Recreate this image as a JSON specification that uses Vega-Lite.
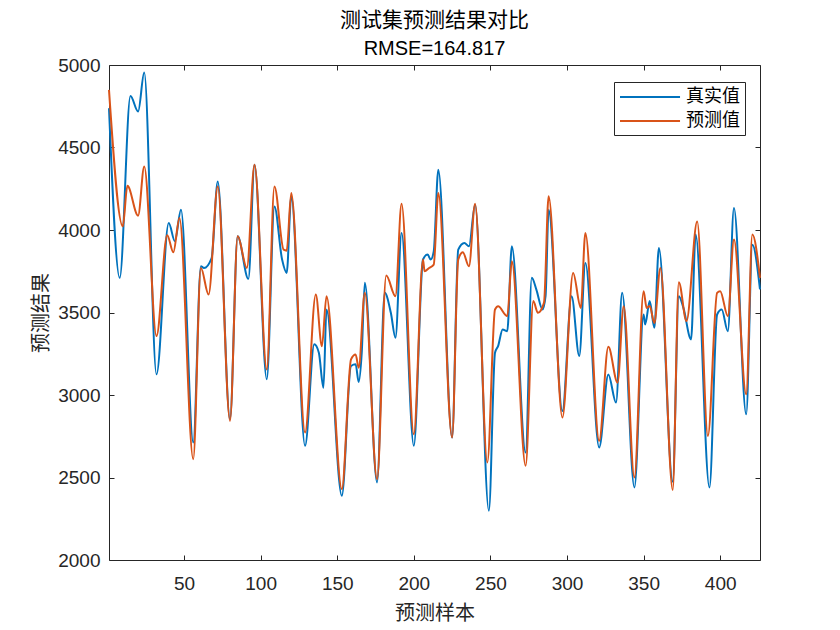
{
  "$schema": "https://vega.github.io/schema/vega-lite/v6.json",
  "width": 651,
  "height": 495,
  "autosize": {"type": "none"},
  "padding": {"left": 109, "top": 65, "right": 80, "bottom": 70},
  "background": "white",
  "config": {
    "view": {"stroke": "#262626", "strokeWidth": 1},
    "axis": {
      "grid": false,
      "domain": false,
      "tickColor": "#262626",
      "tickSize": -5,
      "labelFont": "Liberation Sans",
      "labelFontSize": 19,
      "labelColor": "#262626",
      "titleFont": "Noto Sans CJK SC",
      "titleFontSize": 20,
      "titleFontWeight": "normal",
      "titleColor": "#262626"
    }
  },
  "title": {
    "text": "测试集预测结果对比",
    "subtitle": "RMSE=164.817",
    "font": "Noto Sans CJK SC",
    "fontSize": 21,
    "fontWeight": "normal",
    "color": "#000000",
    "subtitleFont": "Liberation Sans",
    "subtitleFontSize": 20,
    "subtitleColor": "#000000",
    "subtitlePadding": 8,
    "anchor": "middle",
    "frame": "group",
    "offset": -3
  },
  "data": {
    "values": [
      {"x": 1, "v": 4738, "s": "真实值"}, {"x": 8, "v": 3710, "s": "真实值"}, {"x": 15, "v": 4812, "s": "真实值"}, {"x": 20, "v": 4718, "s": "真实值"}, {"x": 24, "v": 4954, "s": "真实值"}, {"x": 32, "v": 3125, "s": "真实值"}, {"x": 40, "v": 4042, "s": "真实值"}, {"x": 44, "v": 3932, "s": "真实值"}, {"x": 48, "v": 4123, "s": "真实值"}, {"x": 56, "v": 2712, "s": "真实值"}, {"x": 61, "v": 3780, "s": "真实值"}, {"x": 63, "v": 3770, "s": "真实值"}, {"x": 68, "v": 3830, "s": "真实值"}, {"x": 72, "v": 4294, "s": "真实值"}, {"x": 80, "v": 2853, "s": "真实值"}, {"x": 85, "v": 3962, "s": "真实值"}, {"x": 92, "v": 3704, "s": "真实值"}, {"x": 96, "v": 4395, "s": "真实值"}, {"x": 104, "v": 3095, "s": "真实值"}, {"x": 109, "v": 4143, "s": "真实值"}, {"x": 114, "v": 3821, "s": "真实值"}, {"x": 117, "v": 3740, "s": "真实值"}, {"x": 120, "v": 4204, "s": "真实值"}, {"x": 129, "v": 2692, "s": "真实值"}, {"x": 135, "v": 3307, "s": "真实值"}, {"x": 138, "v": 3256, "s": "真实值"}, {"x": 141, "v": 3044, "s": "真实值"}, {"x": 143, "v": 3518, "s": "真实值"}, {"x": 153, "v": 2389, "s": "真实值"}, {"x": 159, "v": 3176, "s": "真实值"}, {"x": 162, "v": 3186, "s": "真实值"}, {"x": 164, "v": 3079, "s": "真实值"}, {"x": 166, "v": 3256, "s": "真实值"}, {"x": 168, "v": 3680, "s": "真实值"}, {"x": 176, "v": 2470, "s": "真实值"}, {"x": 181, "v": 3619, "s": "真实值"}, {"x": 185, "v": 3498, "s": "真实值"}, {"x": 188, "v": 3347, "s": "真实值"}, {"x": 192, "v": 3982, "s": "真实值"}, {"x": 200, "v": 2692, "s": "真实值"}, {"x": 206, "v": 3821, "s": "真实值"}, {"x": 209, "v": 3851, "s": "真实值"}, {"x": 211, "v": 3821, "s": "真实值"}, {"x": 213, "v": 3870, "s": "真实值"}, {"x": 216, "v": 4365, "s": "真实值"}, {"x": 225, "v": 2742, "s": "真实值"}, {"x": 229, "v": 3881, "s": "真实值"}, {"x": 233, "v": 3921, "s": "真实值"}, {"x": 236, "v": 3901, "s": "真实值"}, {"x": 240, "v": 4153, "s": "真实值"}, {"x": 249, "v": 2299, "s": "真实值"}, {"x": 253, "v": 3256, "s": "真实值"}, {"x": 255, "v": 3296, "s": "真实值"}, {"x": 258, "v": 3397, "s": "真实值"}, {"x": 261, "v": 3387, "s": "真实值"}, {"x": 264, "v": 3901, "s": "真实值"}, {"x": 273, "v": 2651, "s": "真实值"}, {"x": 277, "v": 3710, "s": "真实值"}, {"x": 280, "v": 3639, "s": "真实值"}, {"x": 284, "v": 3518, "s": "真实值"}, {"x": 286, "v": 3599, "s": "真实值"}, {"x": 288, "v": 4123, "s": "真实值"}, {"x": 297, "v": 2903, "s": "真实值"}, {"x": 303, "v": 3599, "s": "真实值"}, {"x": 308, "v": 3236, "s": "真实值"}, {"x": 312, "v": 3800, "s": "真实值"}, {"x": 321, "v": 2682, "s": "真实值"}, {"x": 327, "v": 3125, "s": "真实值"}, {"x": 332, "v": 2954, "s": "真实值"}, {"x": 336, "v": 3619, "s": "真实值"}, {"x": 344, "v": 2440, "s": "真实值"}, {"x": 350, "v": 3488, "s": "真实值"}, {"x": 351, "v": 3427, "s": "真实值"}, {"x": 354, "v": 3569, "s": "真实值"}, {"x": 357, "v": 3407, "s": "真实值"}, {"x": 360, "v": 3891, "s": "真实值"}, {"x": 369, "v": 2475, "s": "真实值"}, {"x": 373, "v": 3599, "s": "真实值"}, {"x": 376, "v": 3528, "s": "真实值"}, {"x": 381, "v": 3337, "s": "真实值"}, {"x": 384, "v": 3972, "s": "真实值"}, {"x": 393, "v": 2440, "s": "真实值"}, {"x": 398, "v": 3488, "s": "真实值"}, {"x": 401, "v": 3518, "s": "真实值"}, {"x": 405, "v": 3387, "s": "真实值"}, {"x": 409, "v": 4133, "s": "真实值"}, {"x": 417, "v": 2883, "s": "真实值"}, {"x": 421, "v": 3911, "s": "真实值"}, {"x": 426, "v": 3640, "s": "真实值"},
      {"x": 1, "v": 4849, "s": "预测值"}, {"x": 10, "v": 4022, "s": "预测值"}, {"x": 13, "v": 4268, "s": "预测值"}, {"x": 20, "v": 4087, "s": "预测值"}, {"x": 24, "v": 4385, "s": "预测值"}, {"x": 32, "v": 3357, "s": "预测值"}, {"x": 39, "v": 3968, "s": "预测值"}, {"x": 43, "v": 3865, "s": "预测值"}, {"x": 47, "v": 4073, "s": "预测值"}, {"x": 56, "v": 2611, "s": "预测值"}, {"x": 61, "v": 3770, "s": "预测值"}, {"x": 66, "v": 3609, "s": "预测值"}, {"x": 72, "v": 4264, "s": "预测值"}, {"x": 80, "v": 2843, "s": "预测值"}, {"x": 85, "v": 3962, "s": "预测值"}, {"x": 91, "v": 3770, "s": "预测值"}, {"x": 96, "v": 4395, "s": "预测值"}, {"x": 104, "v": 3155, "s": "预测值"}, {"x": 109, "v": 4264, "s": "预测值"}, {"x": 115, "v": 3881, "s": "预测值"}, {"x": 117, "v": 3875, "s": "预测值"}, {"x": 120, "v": 4224, "s": "预测值"}, {"x": 129, "v": 2772, "s": "预测值"}, {"x": 136, "v": 3609, "s": "预测值"}, {"x": 140, "v": 3296, "s": "预测值"}, {"x": 143, "v": 3599, "s": "预测值"}, {"x": 153, "v": 2430, "s": "预测值"}, {"x": 159, "v": 3216, "s": "预测值"}, {"x": 162, "v": 3246, "s": "预测值"}, {"x": 164, "v": 3165, "s": "预测值"}, {"x": 168, "v": 3619, "s": "预测值"}, {"x": 176, "v": 2490, "s": "预测值"}, {"x": 182, "v": 3724, "s": "预测值"}, {"x": 188, "v": 3599, "s": "预测值"}, {"x": 192, "v": 4159, "s": "预测值"}, {"x": 200, "v": 2762, "s": "预测值"}, {"x": 206, "v": 3821, "s": "预测值"}, {"x": 207, "v": 3750, "s": "预测值"}, {"x": 210, "v": 3770, "s": "预测值"}, {"x": 213, "v": 3790, "s": "预测值"}, {"x": 216, "v": 4224, "s": "预测值"}, {"x": 225, "v": 2742, "s": "预测值"}, {"x": 229, "v": 3821, "s": "预测值"}, {"x": 232, "v": 3865, "s": "预测值"}, {"x": 236, "v": 3780, "s": "预测值"}, {"x": 240, "v": 4159, "s": "预测值"}, {"x": 248, "v": 2591, "s": "预测值"}, {"x": 253, "v": 3518, "s": "预测值"}, {"x": 255, "v": 3538, "s": "预测值"}, {"x": 261, "v": 3478, "s": "预测值"}, {"x": 264, "v": 3810, "s": "预测值"}, {"x": 273, "v": 2571, "s": "预测值"}, {"x": 278, "v": 3569, "s": "预测值"}, {"x": 281, "v": 3498, "s": "预测值"}, {"x": 285, "v": 3560, "s": "预测值"}, {"x": 288, "v": 4204, "s": "预测值"}, {"x": 297, "v": 2863, "s": "预测值"}, {"x": 304, "v": 3740, "s": "预测值"}, {"x": 309, "v": 3528, "s": "预测值"}, {"x": 312, "v": 3982, "s": "预测值"}, {"x": 321, "v": 2722, "s": "预测值"}, {"x": 327, "v": 3292, "s": "预测值"}, {"x": 333, "v": 3075, "s": "预测值"}, {"x": 337, "v": 3538, "s": "预测值"}, {"x": 344, "v": 2500, "s": "预测值"}, {"x": 350, "v": 3629, "s": "预测值"}, {"x": 352, "v": 3528, "s": "预测值"}, {"x": 354, "v": 3540, "s": "预测值"}, {"x": 357, "v": 3437, "s": "预测值"}, {"x": 361, "v": 3770, "s": "预测值"}, {"x": 369, "v": 2425, "s": "预测值"}, {"x": 373, "v": 3684, "s": "预测值"}, {"x": 378, "v": 3448, "s": "预测值"}, {"x": 385, "v": 4052, "s": "预测值"}, {"x": 392, "v": 2752, "s": "预测值"}, {"x": 398, "v": 3619, "s": "预测值"}, {"x": 400, "v": 3629, "s": "预测值"}, {"x": 405, "v": 3478, "s": "预测值"}, {"x": 409, "v": 3942, "s": "预测值"}, {"x": 417, "v": 3004, "s": "预测值"}, {"x": 421, "v": 3972, "s": "预测值"}, {"x": 426, "v": 3710, "s": "预测值"}
    ]
  },
  "layer": [
    {
      "transform": [{"filter": "datum.s === '真实值'"}],
      "mark": {"type": "line", "interpolate": "monotone", "strokeWidth": 2},
      "encoding": {
        "x": {
          "field": "x", "type": "quantitative",
          "scale": {"domain": [1, 426], "nice": false, "zero": false},
          "axis": {"orient": "bottom", "values": [50, 100, 150, 200, 250, 300, 350, 400], "format": "d", "title": "预测样本", "labelPadding": 19, "titlePadding": 10}
        },
        "y": {
          "field": "v", "type": "quantitative",
          "scale": {"domain": [2000, 5000], "nice": false, "zero": false},
          "axis": {"orient": "left", "values": [2000, 2500, 3000, 3500, 4000, 4500, 5000], "format": "d", "title": "预测结果", "labelPadding": 14, "titlePadding": 6}
        },
        "color": {
          "field": "s", "type": "nominal",
          "scale": {"domain": ["真实值", "预测值"], "range": ["#0072BD", "#D95319"]},
          "legend": {
            "title": null, "orient": "none", "legendX": 505, "legendY": 17,
            "symbolType": "M-1,0H5.67", "symbolSize": 324, "symbolStrokeWidth": 2,
            "strokeColor": "#262626", "fillColor": "white", "padding": 5,
            "labelFont": "Noto Sans CJK SC", "labelFontSize": 18, "labelColor": "#000000",
            "rowPadding": 5, "labelOffset": 47
          }
        }
      }
    },
    {
      "transform": [{"filter": "datum.s === '预测值'"}],
      "mark": {"type": "line", "interpolate": "monotone", "strokeWidth": 2},
      "encoding": {
        "x": {
          "field": "x", "type": "quantitative",
          "axis": {"orient": "top", "values": [50, 100, 150, 200, 250, 300, 350, 400], "labels": false, "title": null}
        },
        "y": {
          "field": "v", "type": "quantitative",
          "axis": {"orient": "right", "values": [2000, 2500, 3000, 3500, 4000, 4500, 5000], "labels": false, "title": null}
        },
        "color": {"field": "s", "type": "nominal"}
      }
    }
  ],
  "resolve": {"axis": {"x": "independent", "y": "independent"}}
}
